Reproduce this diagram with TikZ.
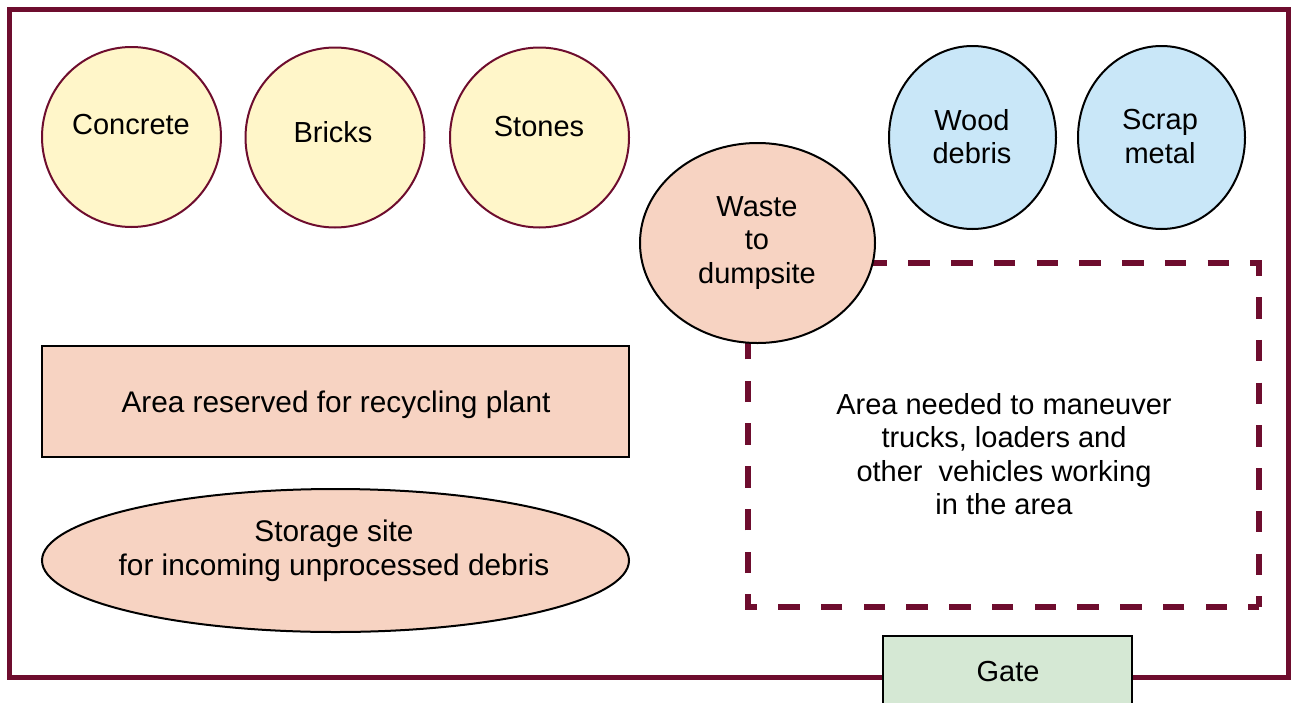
\documentclass[tikz,border=0pt]{standalone}
\usepackage{fontspec}
\setmainfont{Liberation Sans}
\usetikzlibrary{shapes.geometric}
\definecolor{frame}{HTML}{6E0D2E}
\definecolor{yel}{HTML}{FFF6C9}
\definecolor{blu}{HTML}{C9E7F8}
\definecolor{pch}{HTML}{F7D3C2}
\definecolor{grn}{HTML}{D5E8D4}
\begin{document}
\begin{tikzpicture}[x=1pt,y=-1pt,
  big/.style={font=\fontsize{29}{33.5}\selectfont, align=center, inner sep=0pt},
  wide/.style={font=\fontsize{29.8}{34}\selectfont, align=center, inner sep=0pt},
  ycirc/.style={ellipse, draw=frame, line width=2pt, fill=yel, inner sep=0pt, minimum width=179, minimum height=180},
  bcirc/.style={ellipse, draw=black, line width=2pt, fill=blu, inner sep=0pt, minimum width=167, minimum height=183},
  pshape/.style={draw=black, line width=2pt, fill=pch, inner sep=0pt},
  zone/.style={draw=frame, line width=5.5pt, dash pattern=on 21.5pt off 21.25pt, dash phase=10.75pt},
  border/.style={draw=frame, line width=5pt}
]
\clip (0,0) rectangle (1291,702);
\fill[white] (0,0) rectangle (1291,702);
% outer frame
\draw[border] (9.5,9.5) rectangle (1288.5,677);
% manoeuvring zone
\draw[zone] (1259,607) -- (748,607) -- (748,263) -- (1259,263) -- cycle;
\node[big] (zonetxt) at (1004,454) {Area needed to maneuver\\trucks, loaders and\\other\ \ vehicles working\\in the area};
% yellow circles
\node[ycirc] (concrete) at (131.5,137) {};
\node[big] (concretet) at (131,125) {Concrete};
\node[ycirc] (bricks) at (335,137.5) {};
\node[big] (brickst) at (333,132) {Bricks};
\node[ycirc] (stones) at (539.5,137.5) {};
\node[big] (stonest) at (539,127) {Stones};
% blue circles
\node[bcirc] (wood) at (972.5,137.5) {};
\node[big] (woodt) at (972,136.5) {Wood\\debris};
\node[bcirc] (scrap) at (1161.5,137.5) {};
\node[big] (scrapt) at (1160,136.5) {Scrap\\metal};
% waste
\node[pshape, ellipse, minimum width=235, minimum height=200] (waste) at (757.5,243) {};
\node[big] (wastet) at (757,243) {Waste\\to\\dumpsite};
% recycling plant
\node[pshape, rectangle, minimum width=587, minimum height=111] (plant) at (335.5,401.5) {};
\node[wide] (plantt) at (336,405) {Area reserved for recycling plant};
% storage
\node[pshape, ellipse, minimum width=587, minimum height=143] (store) at (335.5,560.5) {};
\node[wide] (storet) at (334,551) {Storage site\\for incoming unprocessed debris};
% gate
\node[draw=black, line width=2pt, fill=grn, minimum width=249, minimum height=72, inner sep=0pt] (gate) at (1007.5,672) {};
\node[big] (gatet) at (1008,672) {Gate};
\end{tikzpicture}
\end{document}
